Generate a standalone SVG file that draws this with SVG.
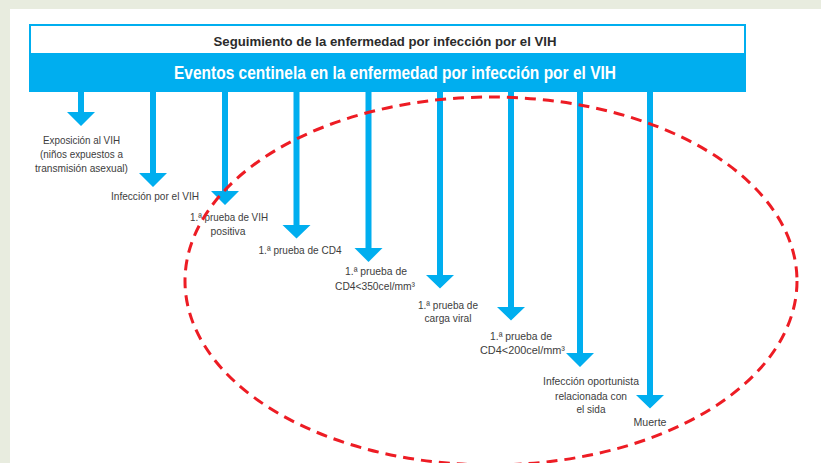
<svg xmlns="http://www.w3.org/2000/svg" width="821" height="463" viewBox="0 0 821 463">
<style>
.lbl{font-family:"Liberation Sans",Arial,sans-serif;font-size:11.5px;fill:#3d3d3d;text-anchor:middle}
.arrow{fill:#00aeef}
.h1{font-family:"Liberation Sans",Arial,sans-serif;font-size:13.5px;font-weight:bold;fill:#2b2b2b;text-anchor:middle}
.h2{font-family:"Liberation Sans",Arial,sans-serif;font-size:18px;font-weight:bold;fill:#ffffff;text-anchor:middle}
</style>
<rect x="0" y="0" width="821" height="463" fill="#e8ecdf"/>
<rect x="10" y="9" width="811" height="454" fill="#ffffff"/>
<g id="header">
<rect x="30" y="25" width="715" height="66" fill="#ffffff" stroke="#00aeef" stroke-width="2"/>
<rect x="29" y="53" width="717" height="38" fill="#00aeef"/>
<text class="h1" x="385" y="46" textLength="343" lengthAdjust="spacingAndGlyphs">Seguimiento de la enfermedad por infección por el VIH</text>
<text class="h2" x="395" y="79" textLength="442" lengthAdjust="spacingAndGlyphs">Eventos centinela en la enfermedad por infección por el VIH</text>
</g>
<g id="connectors">
<path class="arrow" d="M78 91V112H67L81 126L95 112H84V91Z"/>
<path class="arrow" d="M150 91V173H139L153 187L167 173H156V91Z"/>
<path class="arrow" d="M222 91V191H211L225 205L239 191H228V91Z"/>
<path class="arrow" d="M293.5 91V225H282.5L296.5 238.5L310.5 225H299.5V91Z"/>
<path class="arrow" d="M365.5 91V248H354.5L368.5 262L382.5 248H371.5V91Z"/>
<path class="arrow" d="M437 91V275H426L440 288.5L454 275H443V91Z"/>
<path class="arrow" d="M508 91V307H497L511 320.5L525 307H514V91Z"/>
<path class="arrow" d="M577 91V353H566L580 367L594 353H583V91Z"/>
<path class="arrow" d="M647 91V395H636L650 408.5L664 395H653V91Z"/>
</g>
<g id="n1">
<text class="lbl" x="81.5" y="144" textLength="77" lengthAdjust="spacingAndGlyphs">Exposición al VIH</text>
<text class="lbl" x="81.5" y="158" textLength="83" lengthAdjust="spacingAndGlyphs">(niños expuestos a</text>
<text class="lbl" x="81.5" y="172" textLength="93" lengthAdjust="spacingAndGlyphs">transmisión asexual)</text>
</g>
<g id="n2">
<text class="lbl" x="155" y="200" textLength="88" lengthAdjust="spacingAndGlyphs">Infección por el VIH</text>
</g>
<g id="n3">
<text class="lbl" x="229" y="221" textLength="78" lengthAdjust="spacingAndGlyphs">1.ª prueba de VIH</text>
<text class="lbl" x="228" y="235" textLength="35" lengthAdjust="spacingAndGlyphs">positiva</text>
</g>
<g id="n4">
<text class="lbl" x="300" y="254" textLength="83" lengthAdjust="spacingAndGlyphs">1.ª prueba de CD4</text>
</g>
<g id="n5">
<text class="lbl" x="376" y="275" textLength="62" lengthAdjust="spacingAndGlyphs">1.ª prueba de</text>
<text class="lbl" x="375" y="290" textLength="80" lengthAdjust="spacingAndGlyphs">CD4&lt;350cel/mm³</text>
</g>
<g id="n6">
<text class="lbl" x="448" y="309" textLength="60" lengthAdjust="spacingAndGlyphs">1.ª prueba de</text>
<text class="lbl" x="448" y="322" textLength="47" lengthAdjust="spacingAndGlyphs">carga viral</text>
</g>
<g id="n7">
<text class="lbl" x="521" y="340" textLength="62" lengthAdjust="spacingAndGlyphs">1.ª prueba de</text>
<text class="lbl" x="522.5" y="354" textLength="85" lengthAdjust="spacingAndGlyphs">CD4&lt;200cel/mm³</text>
</g>
<g id="n8">
<text class="lbl" x="591" y="385" textLength="96" lengthAdjust="spacingAndGlyphs">Infección oportunista</text>
<text class="lbl" x="591" y="400" textLength="72" lengthAdjust="spacingAndGlyphs">relacionada con</text>
<text class="lbl" x="591" y="413" textLength="29" lengthAdjust="spacingAndGlyphs">el sida</text>
</g>
<g id="n9">
<text class="lbl" x="650" y="426" textLength="33" lengthAdjust="spacingAndGlyphs">Muerte</text>
</g>
<g id="region">
<ellipse cx="491" cy="281" rx="306" ry="184" fill="none" stroke="#ed1c24" stroke-width="3" stroke-dasharray="11 7"/>
</g>
</svg>
